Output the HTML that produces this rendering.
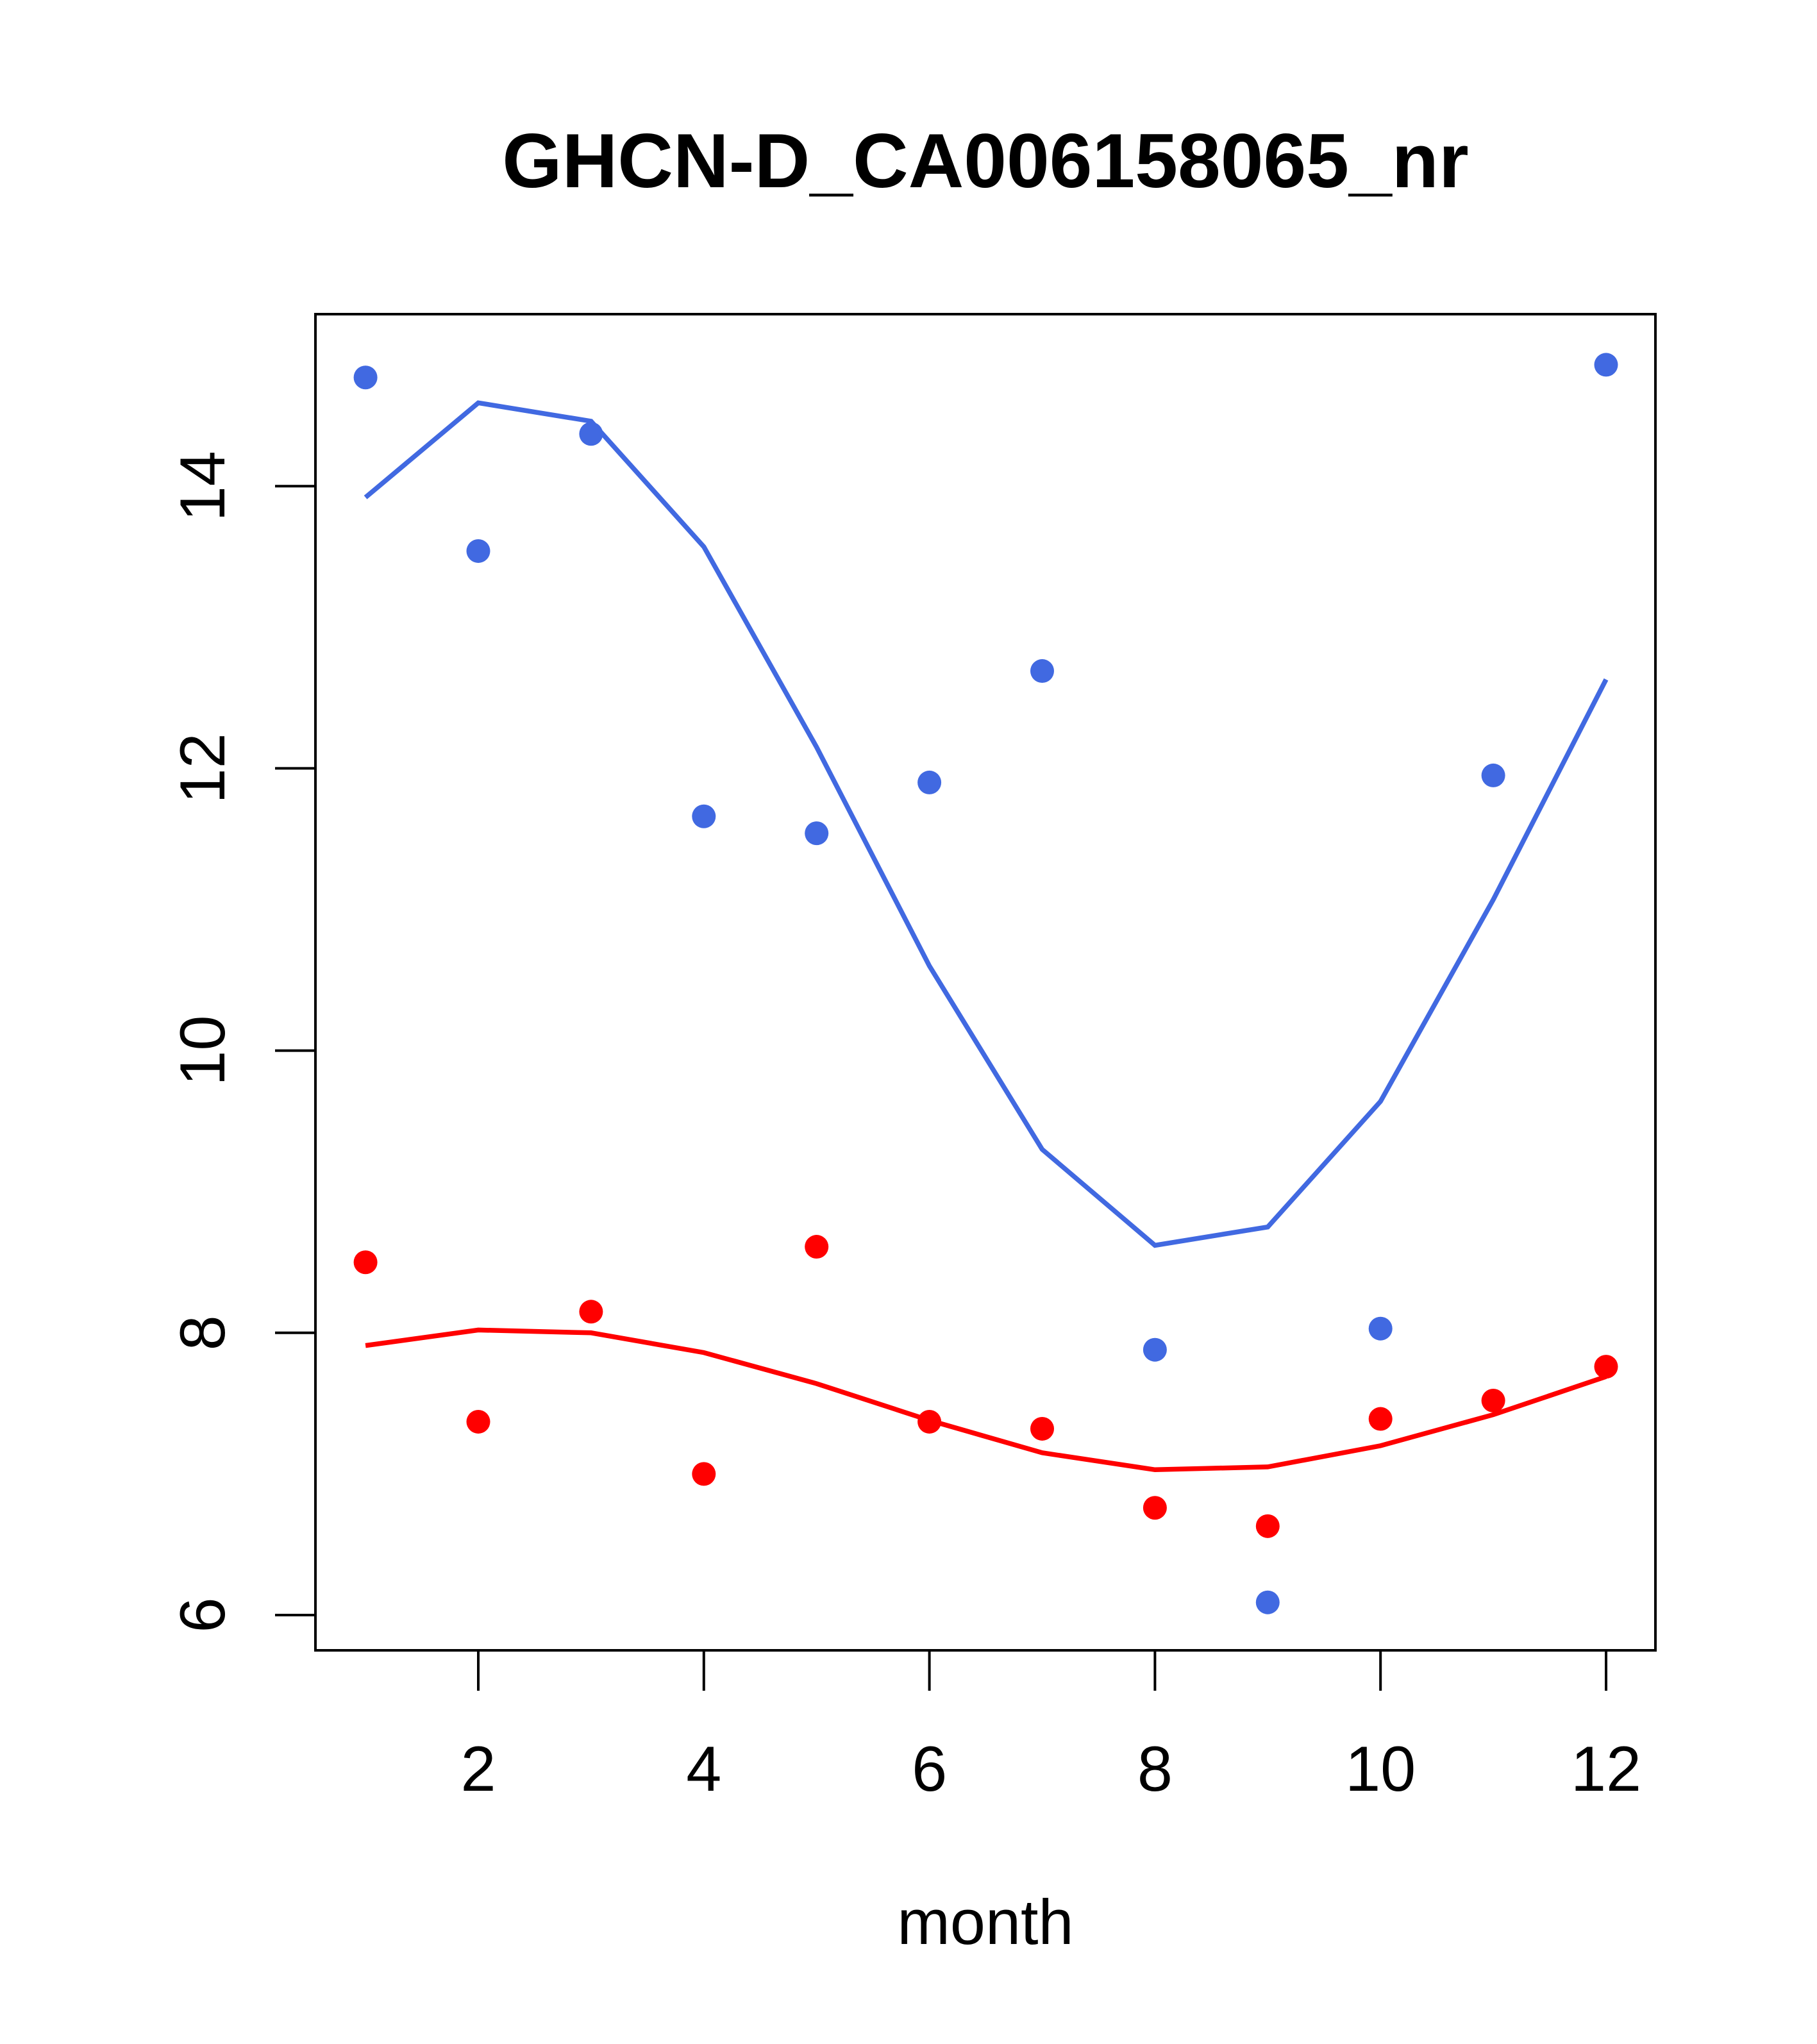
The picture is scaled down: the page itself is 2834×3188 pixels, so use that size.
<!DOCTYPE html>
<html><head><meta charset="utf-8"><style>
html,body{margin:0;padding:0;background:#fff;}
svg{display:block;}
text{font-family:"Liberation Sans",sans-serif;fill:#000;}
</style></head><body>
<svg id="chart" width="2834" height="3188" viewBox="0 0 2834 3188" xmlns="http://www.w3.org/2000/svg">
<rect width="2834" height="3188" fill="#fff"/>
<text x="1537" y="292" font-size="120" font-weight="bold" text-anchor="middle">GHCN-D_CA006158065_nr</text>
<rect x="492" y="490" width="2090" height="2084" fill="none" stroke="#000" stroke-width="4"/>
<text x="1537" y="3032" font-size="99" text-anchor="middle">month</text>
<g id="xaxis"></g>
<g id="yaxis"></g>
<g id="series"></g>
</svg>
<script>
const months = [1,2,3,4,5,6,7,8,9,10,11,12];
const bluePoints = [14.77,13.54,14.37,11.66,11.54,11.90,12.69,7.88,6.09,8.03,11.95,14.86];
const blueLine = [13.92,14.59,14.46,13.57,12.15,10.60,9.30,8.62,8.75,9.64,11.07,12.63];
const redPoints = [8.50,7.37,8.15,7.00,8.61,7.37,7.32,6.76,6.63,7.39,7.52,7.76];
const redLine = [7.91,8.02,8.00,7.86,7.64,7.38,7.15,7.03,7.05,7.20,7.42,7.69];
const xTicks = [2,4,6,8,10,12];
const yTicks = [6,8,10,12,14];

const NS = "http://www.w3.org/2000/svg";
function xs(m){return 746 + (m-2)*175.9;}
function ys(v){return 2519 - (v-6)*220.1;}
function mk(tag, attrs, parent){const e=document.createElementNS(NS,tag);for(const k in attrs)e.setAttribute(k,attrs[k]);parent.appendChild(e);return e;}

const xg=document.getElementById('xaxis'), yg=document.getElementById('yaxis'), sg=document.getElementById('series');
mk('line',{x1:xs(xTicks[0]),x2:xs(xTicks[xTicks.length-1]),y1:2574,y2:2574,stroke:'#000','stroke-width':4},xg);
xTicks.forEach(t=>{
  const l=mk('line',{x1:xs(t),x2:xs(t),y1:2574,y2:2637,stroke:'#000','stroke-width':4},xg);
  
  
  const tx=mk('text',{x:xs(t),y:2793,'font-size':99,'text-anchor':'middle'},xg);
  tx.textContent=t;
  
  
});
mk('line',{x1:492,x2:492,y1:ys(yTicks[0]),y2:ys(yTicks[yTicks.length-1]),stroke:'#000','stroke-width':4},yg);
yTicks.forEach(t=>{
  const l=mk('line',{x1:429,x2:492,y1:ys(t),y2:ys(t),stroke:'#000','stroke-width':4},yg);
  
  
  const tx=mk('text',{x:0,y:0,'font-size':99,'text-anchor':'middle',transform:`translate(350,${ys(t)}) rotate(-90)`},yg);
  tx.textContent=t;
  
  
});
function line(vals,color,name){
  const p=mk('polyline',{points:vals.map((v,i)=>xs(months[i])+','+ys(v)).join(' '),fill:'none',stroke:color,'stroke-width':7.5},sg);
  
  
}
function pts(vals,color,name){
  vals.forEach((v,i)=>{
    const c=mk('circle',{cx:xs(months[i]),cy:ys(v),r:18.5,fill:color},sg);
    
    
  });
}
line(blueLine,'#4169E1','blue-fit-line');
line(redLine,'#FF0000','red-fit-line');
pts(bluePoints,'#4169E1','blue-point');
pts(redPoints,'#FF0000','red-point');
</script>
</body></html>
